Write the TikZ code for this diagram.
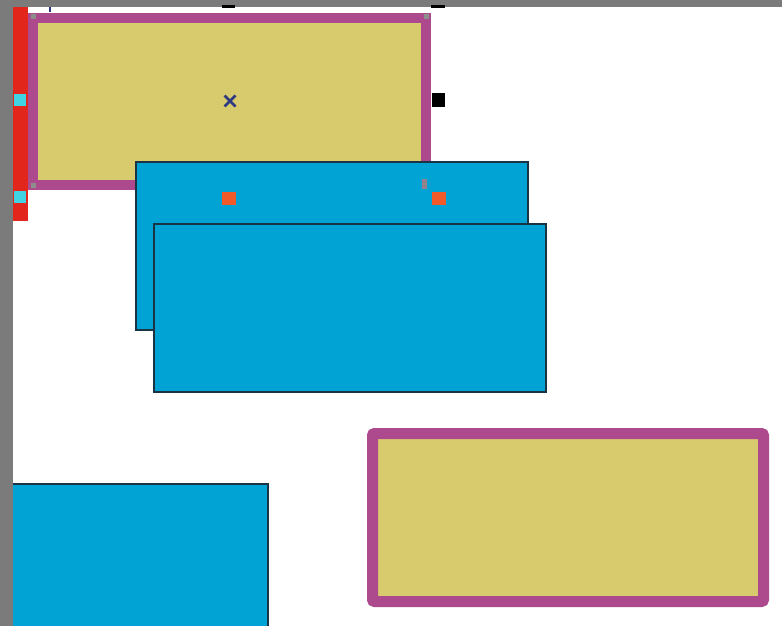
\documentclass[tikz,border=0pt]{standalone}
\usepackage{tikz}
\definecolor{bggray}{HTML}{7B7B7B}
\definecolor{boxyellow}{HTML}{D8CB6E}
\definecolor{boxpurple}{HTML}{AD4A8E}
\definecolor{boxblue}{HTML}{00A3D3}
\definecolor{edgedark}{HTML}{1B3445}
\definecolor{barred}{HTML}{E2261C}
\definecolor{handcyan}{HTML}{40D3E3}
\definecolor{handorange}{HTML}{F05A28}
\definecolor{crossnavy}{HTML}{2E3A80}
\definecolor{cornergray}{HTML}{8C8F8A}
\tikzset{
  base/.style={inner sep=0pt, outer sep=0pt},
  yellowbox/.style={base, draw=boxpurple, fill=boxyellow, line width=10pt},
  bluebox/.style={base, draw=edgedark, fill=boxblue, line width=1.4pt},
  handlesq/.style={base, fill=handcyan, minimum size=12pt},
  orangesq/.style={base, fill=handorange, minimum width=14pt, minimum height=13pt},
  blacksq/.style={base, fill=black, minimum width=13pt, minimum height=14pt},
  cornersq/.style={base, fill=cornergray, minimum size=5pt},
}
\begin{document}
\begin{tikzpicture}[x=1pt, y=-1pt]
\useasboundingbox (0,0) rectangle (782,626);
\fill[bggray] (0,0) rectangle (782,626);
\fill[white] (13,7) rectangle (782,626);
\begin{scope}
\clip (13,7) rectangle (782,626);
% red side bar with cyan handles
\node[base, fill=barred, minimum width=15pt, minimum height=214pt] (redbar) at (20.5,114) {};
\node[handlesq] (cyanA) at (20,100) {};
\node[handlesq] (cyanB) at (20,197) {};
% top-left selected box
\node[yellowbox, minimum width=393pt, minimum height=167pt] (topbox) at (229.5,101.5) {};
\node[cornersq] (cTL) at (33,17) {};
\node[cornersq] (cTR) at (426,17) {};
\node[cornersq] (cBL) at (33,185) {};
\draw[crossnavy, line width=2.8pt] (224.5,95.5) -- (235.5,106.5) (224.5,106.5) -- (235.5,95.5);
\node[base] (cross) at (230,101) {};
\node[blacksq] (blackR) at (438.5,100) {};
% blue boxes
\node[bluebox, minimum width=392pt, minimum height=168pt] (blueA) at (332,246) {};
\node[orangesq] (orA) at (229,198.5) {};
\node[orangesq] (orB) at (438.5,198.5) {};
\node[base, fill=cornergray!80!boxpurple, minimum width=5pt, minimum height=10pt] (cBR) at (424.5,184) {};
\node[bluebox, minimum width=392pt, minimum height=168pt] (blueB) at (350,308) {};
% bottom-left blue box (runs off canvas)
\node[bluebox, minimum width=265pt, minimum height=160pt] (blueC) at (135.5,564) {};
% bottom-right box
\node[base, draw=boxpurple, fill=boxyellow, line width=11pt, rounded corners=1pt, line join=round, minimum width=391pt, minimum height=168pt] (botbox) at (568,517.5) {};
% little mark at top of the canvas
\draw[crossnavy, line width=1.5pt] (50,7) -- (50,12);
\end{scope}
\node[base, fill=black, minimum width=13pt, minimum height=3pt] (topmarkA) at (228.5,6.5) {};
\node[base, fill=black, minimum width=14pt, minimum height=3pt] (topmarkB) at (438,6.5) {};
\end{tikzpicture}
\end{document}
